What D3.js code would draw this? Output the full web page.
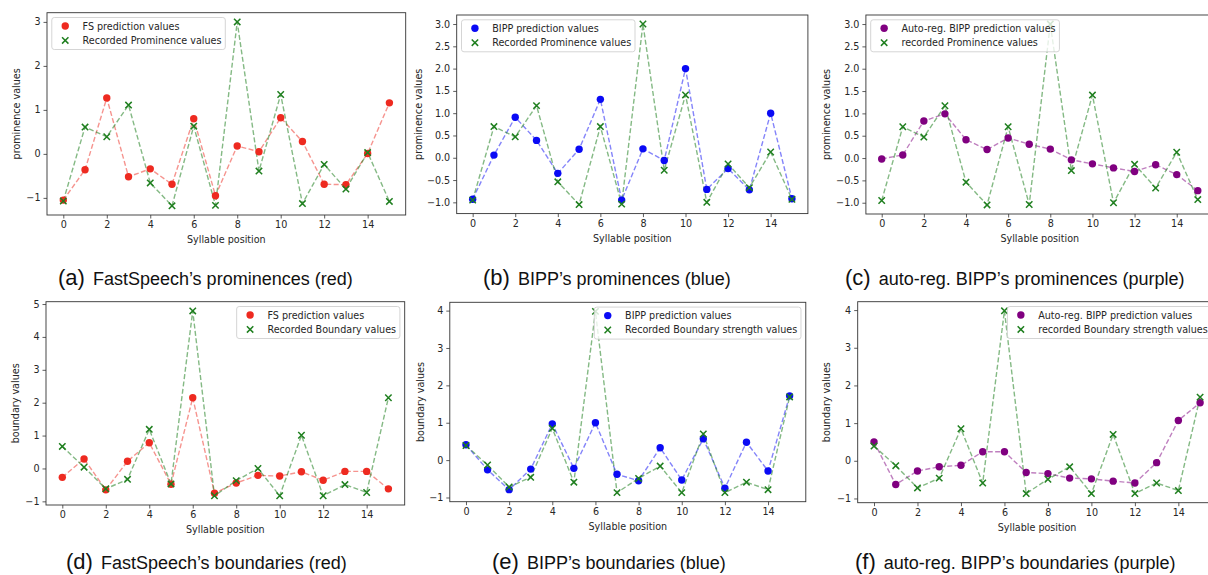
<!DOCTYPE html>
<html lang="en">
<head>
<meta charset="utf-8">
<title>Prominence and boundary predictions</title>
<script src="https://cdn.jsdelivr.net/npm/d3@7"></script>
<style>
  body { margin: 0; background: #fff; }
  svg text { font-family: "DejaVu Sans", sans-serif; fill: #262626; }
  svg text.caption { font-family: "Liberation Sans", Arial, sans-serif; fill: #111; }
</style>
</head>
<body>
<script>
// syllable positions along x
var syllables = [0, 1, 2, 3, 4, 5, 6, 7, 8, 9, 10, 11, 12, 13, 14, 15];
var xTicks = [0, 2, 4, 6, 8, 10, 12, 14];

// prominence values (top row)
var fsProminence   = [-1.05, -0.36, 1.27, -0.52, -0.34, -0.69, 0.80, -0.95, 0.18, 0.05, 0.82, 0.28, -0.69, -0.70, 0.01, 1.16];
var recProminenceA = [-1.07, 0.61, 0.39, 1.11, -0.66, -1.18, 0.63, -1.17, 3.00, -0.39, 1.35, -1.13, -0.24, -0.80, 0.03, -1.08];
var bippProminence = [-0.93, 0.06, 0.91, 0.39, -0.35, 0.19, 1.31, -0.95, 0.20, -0.06, 2.00, -0.71, -0.24, -0.72, 1.00, -0.92];
var recProminence  = [-0.95, 0.70, 0.47, 1.17, -0.54, -1.05, 0.70, -1.04, 3.00, -0.28, 1.41, -1.00, -0.14, -0.67, 0.13, -0.93];
var arProminence   = [-0.02, 0.07, 0.83, 0.99, 0.41, 0.19, 0.45, 0.31, 0.20, -0.04, -0.13, -0.22, -0.30, -0.15, -0.37, -0.73];

// boundary values (bottom row)
var fsBoundary   = [-0.27, 0.29, -0.65, 0.22, 0.78, -0.48, 2.15, -0.75, -0.44, -0.21, -0.23, -0.10, -0.36, -0.09, -0.09, -0.62];
var recBoundaryD = [0.67, 0.04, -0.62, -0.33, 1.19, -0.47, 4.79, -0.83, -0.37, 0.00, -0.83, 1.01, -0.83, -0.49, -0.73, 2.15];
var bippBoundary = [0.41, -0.26, -0.79, -0.24, 0.97, -0.22, 1.00, -0.38, -0.55, 0.33, -0.53, 0.57, -0.75, 0.48, -0.29, 1.72];
var recBoundary  = [0.39, -0.13, -0.72, -0.46, 0.85, -0.59, 3.98, -0.87, -0.49, -0.16, -0.87, 0.70, -0.87, -0.59, -0.79, 1.69];
var arBoundary   = [0.50, -0.63, -0.27, -0.16, -0.12, 0.24, 0.24, -0.31, -0.34, -0.46, -0.48, -0.54, -0.59, -0.05, 1.07, 1.54];

// y tick values
var yTicksA = [-1, 0, 1, 2, 3];
var yTicksB = [-1, -0.5, 0, 0.5, 1, 1.5, 2, 2.5, 3];
var yTicksD = [-1, 0, 1, 2, 3, 4, 5];
var yTicksE = [-1, 0, 1, 2, 3, 4];

var green = "#1f7f1f";

var panels = [
  { left: 47, right: 405.7, top: 12.7, bottom: 215, pred: fsProminence, rec: recProminenceA,
    color: "#ee2a20", yTicks: yTicksA, fmt: d3.format("d"), ylab: "prominence values", ylabX: 16,
    legend: "left", names: ["FS prediction values", "Recorded Prominence values"],
    tag: "(a)", caption: "FastSpeech\u2019s prominences (red)", capX: 58, capY: 285 },
  { left: 456.7, right: 807.9, top: 15, bottom: 213.6, pred: bippProminence, rec: recProminence,
    color: "#0a0af5", yTicks: yTicksB, fmt: d3.format(".1f"), ylab: "prominence values", ylabX: 418,
    legend: "left", names: ["BIPP prediction values", "Recorded Prominence values"],
    tag: "(b)", caption: "BIPP\u2019s prominences (blue)", capX: 483, capY: 285 },
  { left: 865.9, right: 1213.6, top: 15, bottom: 214, pred: arProminence, rec: recProminence,
    color: "#800080", yTicks: yTicksB, fmt: d3.format(".1f"), ylab: "prominence values", ylabX: 826.7,
    legend: "left", names: ["Auto-reg. BIPP prediction values", "recorded Prominence values"],
    tag: "(c)", caption: "auto-reg. BIPP\u2019s prominences (purple)", capX: 845, capY: 285 },
  { left: 46, right: 404.7, top: 301.7, bottom: 505, pred: fsBoundary, rec: recBoundaryD,
    color: "#ee2a20", yTicks: yTicksD, fmt: d3.format("d"), ylab: "boundary values", ylabX: 15,
    legend: "right", names: ["FS prediction values", "Recorded Boundary values"],
    tag: "(d)", caption: "FastSpeech\u2019s boundaries (red)", capX: 66, capY: 569 },
  { left: 449.8, right: 805.8, top: 302.3, bottom: 501.7, pred: bippBoundary, rec: recBoundary,
    color: "#0a0af5", yTicks: yTicksE, fmt: d3.format("d"), ylab: "boundary values", ylabX: 420,
    legend: "right", names: ["BIPP prediction values", "Recorded Boundary strength values"],
    tag: "(e)", caption: "BIPP\u2019s boundaries (blue)", capX: 492, capY: 569 },
  { left: 857.7, right: 1216.4, top: 301.7, bottom: 502.7, pred: arBoundary, rec: recBoundary,
    color: "#800080", yTicks: yTicksE, fmt: d3.format("d"), ylab: "boundary values", ylabX: 826.7,
    legend: "right", names: ["Auto-reg. BIPP prediction values", "recorded Boundary strength values"],
    tag: "(f)", caption: "auto-reg. BIPP\u2019s boundaries (purple)", capX: 855, capY: 569 }
];

var W = 1208, H = 575, fs = 9.6;

var svg = d3.select("body").append("svg")
  .attr("width", W).attr("height", H);

var crossPath = "M-3.2,-3.2L3.2,3.2M-3.2,3.2L3.2,-3.2";

var drawPanel = function(p) {
  var g = svg.append("g");

  var x = d3.scaleLinear().domain([-0.75, 15.75]).range([p.left, p.right]);
  var all = p.pred.concat(p.rec);
  var lo = d3.min(all), hi = d3.max(all), pad = (hi - lo) * 0.05;
  var y = d3.scaleLinear().domain([lo - pad, hi + pad]).range([p.bottom, p.top]);

  // axes
  var xAxis = g.append("g")
    .attr("transform", "translate(0," + p.bottom + ")")
    .call(d3.axisBottom(x).tickValues(xTicks).tickSize(3.5).tickPadding(3).tickFormat(d3.format("d")));
  var yAxis = g.append("g")
    .attr("transform", "translate(" + p.left + ",0)")
    .call(d3.axisLeft(y).tickValues(p.yTicks).tickSize(3.5).tickPadding(3).tickFormat(p.fmt));
  [xAxis, yAxis].forEach(function(a) {
    a.select(".domain").remove();
    a.selectAll("line").attr("stroke", "#333").attr("stroke-width", 0.8);
    a.selectAll("text").attr("font-size", fs).attr("fill", "#262626")
      .style("font-family", "'DejaVu Sans', sans-serif");
  });

  // axis labels
  g.append("text")
    .attr("x", (p.left + p.right) / 2).attr("y", p.bottom + 28)
    .attr("text-anchor", "middle").attr("font-size", fs)
    .text("Syllable position");
  g.append("text")
    .attr("transform", "translate(" + p.ylabX + "," + ((p.top + p.bottom) / 2) + ") rotate(-90)")
    .attr("text-anchor", "middle").attr("dominant-baseline", "central").attr("font-size", fs)
    .text(p.ylab);

  // dashed lines
  var line = d3.line()
    .x(function(d, i) { return x(syllables[i]); })
    .y(function(d) { return y(d); });
  g.append("path").datum(p.pred).attr("d", line)
    .attr("fill", "none").attr("stroke", p.color).attr("stroke-opacity", 0.5)
    .attr("stroke-width", 1.4).attr("stroke-dasharray", "5,2.4");
  g.append("path").datum(p.rec).attr("d", line)
    .attr("fill", "none").attr("stroke", green).attr("stroke-opacity", 0.55)
    .attr("stroke-width", 1.4).attr("stroke-dasharray", "5,2.4");

  // markers
  g.selectAll("circle.pred").data(p.pred).enter().append("circle")
    .attr("class", "pred")
    .attr("cx", function(d, i) { return x(syllables[i]); })
    .attr("cy", function(d) { return y(d); })
    .attr("r", 3.7).attr("fill", p.color);
  g.selectAll("path.rec").data(p.rec).enter().append("path")
    .attr("class", "rec")
    .attr("transform", function(d, i) { return "translate(" + x(syllables[i]) + "," + y(d) + ")"; })
    .attr("d", crossPath).attr("stroke", green).attr("stroke-width", 1.5).attr("fill", "none");

  // frame
  g.append("rect")
    .attr("x", p.left).attr("y", p.top)
    .attr("width", p.right - p.left).attr("height", p.bottom - p.top)
    .attr("fill", "none").attr("stroke", "#333").attr("stroke-width", 0.9);

  // legend
  var leg = g.append("g");
  var box = leg.append("rect").attr("rx", 2.5).attr("ry", 2.5)
    .attr("fill", "#fff").attr("fill-opacity", 0.8)
    .attr("stroke", "#d0d0d0").attr("stroke-width", 0.9);
  var texts = p.names.map(function(name, i) {
    return leg.append("text").attr("font-size", fs).attr("dominant-baseline", "central")
      .attr("y", 8.5 + i * 14.4).text(name);
  });
  var tw = d3.max(texts, function(t) { return t.node().getComputedTextLength(); });
  var bw = 3.84 * 2 + 19.2 + 7.7 + tw, bh = 32;
  var bx = p.legend === "left" ? p.left + 4.8 : p.right - 4.8 - bw;
  var by = p.top + 4.8;
  leg.attr("transform", "translate(" + bx + "," + by + ")");
  box.attr("width", bw).attr("height", bh);
  texts.forEach(function(t) { t.attr("x", 3.84 + 19.2 + 7.7); });
  leg.append("circle").attr("cx", 3.84 + 9.6).attr("cy", 8.5).attr("r", 3.7).attr("fill", p.color);
  leg.append("path").attr("transform", "translate(" + (3.84 + 9.6) + "," + (8.5 + 14.4) + ")")
    .attr("d", crossPath).attr("stroke", green).attr("stroke-width", 1.5);

  // caption
  var cap = svg.append("text").attr("class", "caption")
    .attr("x", p.capX).attr("y", p.capY);
  cap.append("tspan").attr("font-size", 22).text(p.tag);
  cap.append("tspan").attr("font-size", 18).attr("dx", 8).text(p.caption);
};

panels.forEach(drawPanel);
</script>
</body>
</html>
